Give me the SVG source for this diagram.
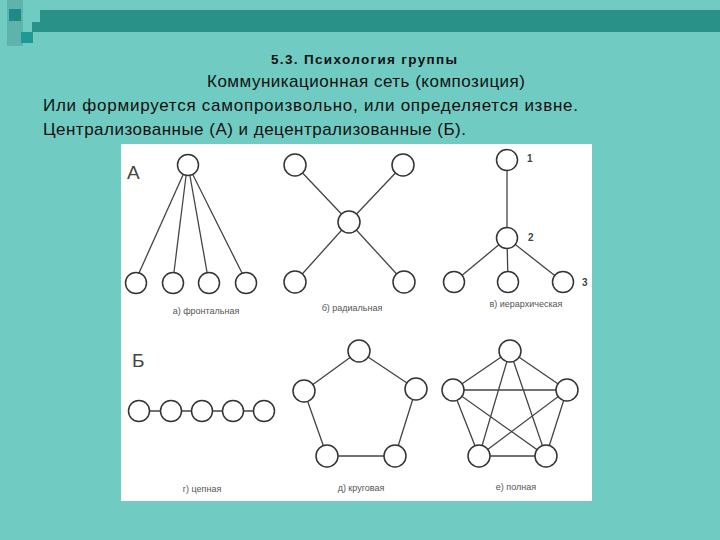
<svg xmlns="http://www.w3.org/2000/svg" width="720" height="540" viewBox="0 0 720 540">
<style>
.n{fill:#fff;stroke:#333;stroke-width:1.5}
.e{stroke:#444;stroke-width:1.3;fill:none}
.h{font-family:"Liberation Sans",Arial,sans-serif;fill:#111}
.cap{font-family:"Liberation Sans",Arial,sans-serif;font-size:9px;fill:#555}
.big{font-family:"Liberation Sans",Arial,sans-serif;font-size:19px;fill:#444}
.num{font-family:"Liberation Sans",Arial,sans-serif;font-size:10px;font-weight:bold;fill:#444}
</style>
<rect width="720" height="540" fill="#70cbc2"/>
<rect x="7" y="0" width="16" height="46" fill="#5fb3ad"/>
<rect x="9" y="9" width="12" height="12" fill="#1f8a83"/>
<rect x="40" y="10" width="680" height="22" fill="#2a9188"/>
<rect x="32" y="22" width="10" height="10" fill="#2a9188"/>
<rect x="21" y="32" width="12" height="11" fill="#1e9a92"/>
<g id="header">
<text class="h" x="364" y="64" font-size="13.5" font-weight="bold" text-anchor="middle" textLength="186">5.3. Психология группы</text>
<text class="h" x="207" y="87" font-size="17" textLength="318">Коммуникационная сеть (композиция)</text>
<text class="h" x="43" y="111" font-size="17" textLength="535">Или формируется самопроизвольно, или определяется извне.</text>
<text class="h" x="43" y="135" font-size="17" textLength="423">Централизованные (А) и децентрализованные (Б).</text>
</g>
<rect x="121" y="144" width="471" height="357" fill="#fff"/>
<text class="big" x="127" y="179">А</text>
<text class="big" x="132" y="367">Б</text>
<g id="connectors">
<line class="e" x1="183" y1="175" x2="139" y2="273"/>
<line class="e" x1="186" y1="176" x2="174" y2="272"/>
<line class="e" x1="190" y1="176" x2="207" y2="272"/>
<line class="e" x1="193" y1="175" x2="242" y2="273"/>
<line class="e" x1="295" y1="165" x2="349" y2="222"/>
<line class="e" x1="403" y1="165" x2="349" y2="222"/>
<line class="e" x1="295" y1="282" x2="349" y2="222"/>
<line class="e" x1="404" y1="282" x2="349" y2="222"/>
<line class="e" x1="507" y1="160" x2="507" y2="238"/>
<line class="e" x1="507" y1="238" x2="454" y2="282"/>
<line class="e" x1="507" y1="238" x2="508" y2="282"/>
<line class="e" x1="507" y1="238" x2="563" y2="282"/>
<line class="e" x1="139" y1="411" x2="264" y2="411"/>
<polygon class="e" points="359,351 416,389 395,456 327,456 304,391"/>
<polygon class="e" points="510,351 567,390 546,456 479,456 453,390"/>
<polyline class="e" points="510,351 479,456 567,390 453,390 546,456 510,351"/>
</g>
<g id="a-top"><circle class="n" cx="188" cy="165" r="10.5"/></g>
<g id="a-1"><circle class="n" cx="136" cy="283" r="10.5"/></g>
<g id="a-2"><circle class="n" cx="173" cy="283" r="10.5"/></g>
<g id="a-3"><circle class="n" cx="209" cy="283" r="10.5"/></g>
<g id="a-4"><circle class="n" cx="246" cy="283" r="10.5"/></g>
<text class="cap" x="206" y="314" text-anchor="middle">а) фронтальная</text>
<g id="b-c"><circle class="n" cx="349" cy="222" r="11"/></g>
<g id="b-1"><circle class="n" cx="295" cy="165" r="11"/></g>
<g id="b-2"><circle class="n" cx="403" cy="165" r="11"/></g>
<g id="b-3"><circle class="n" cx="295" cy="282" r="11"/></g>
<g id="b-4"><circle class="n" cx="404" cy="282" r="11"/></g>
<text class="cap" x="352" y="311" text-anchor="middle">б) радиальная</text>
<g id="v-1"><circle class="n" cx="507" cy="160" r="10.5"/><text class="num" x="527" y="162">1</text></g>
<g id="v-2"><circle class="n" cx="507" cy="238" r="10.5"/><text class="num" x="528" y="241">2</text></g>
<g id="v-3"><circle class="n" cx="454" cy="282" r="10.5"/></g>
<g id="v-4"><circle class="n" cx="508" cy="282" r="10.5"/></g>
<g id="v-5"><circle class="n" cx="563" cy="282" r="10.5"/><text class="num" x="582" y="286">3</text></g>
<text class="cap" x="526" y="307" text-anchor="middle">в) иерархическая</text>
<g id="g-1"><circle class="n" cx="139" cy="411" r="10.5"/></g>
<g id="g-2"><circle class="n" cx="171" cy="411" r="10.5"/></g>
<g id="g-3"><circle class="n" cx="202" cy="411" r="10.5"/></g>
<g id="g-4"><circle class="n" cx="233" cy="411" r="10.5"/></g>
<g id="g-5"><circle class="n" cx="264" cy="411" r="10.5"/></g>
<text class="cap" x="202" y="492" text-anchor="middle">г) цепная</text>
<g id="d-1"><circle class="n" cx="359" cy="351" r="11"/></g>
<g id="d-2"><circle class="n" cx="416" cy="389" r="11"/></g>
<g id="d-3"><circle class="n" cx="395" cy="456" r="11"/></g>
<g id="d-4"><circle class="n" cx="327" cy="456" r="11"/></g>
<g id="d-5"><circle class="n" cx="304" cy="391" r="11"/></g>
<text class="cap" x="361" y="491" text-anchor="middle">д) круговая</text>
<g id="e-1"><circle class="n" cx="510" cy="351" r="11"/></g>
<g id="e-2"><circle class="n" cx="567" cy="390" r="11"/></g>
<g id="e-3"><circle class="n" cx="546" cy="456" r="11"/></g>
<g id="e-4"><circle class="n" cx="479" cy="456" r="11"/></g>
<g id="e-5"><circle class="n" cx="453" cy="390" r="11"/></g>
<text class="cap" x="516" y="490" text-anchor="middle">е) полная</text>
</svg>
